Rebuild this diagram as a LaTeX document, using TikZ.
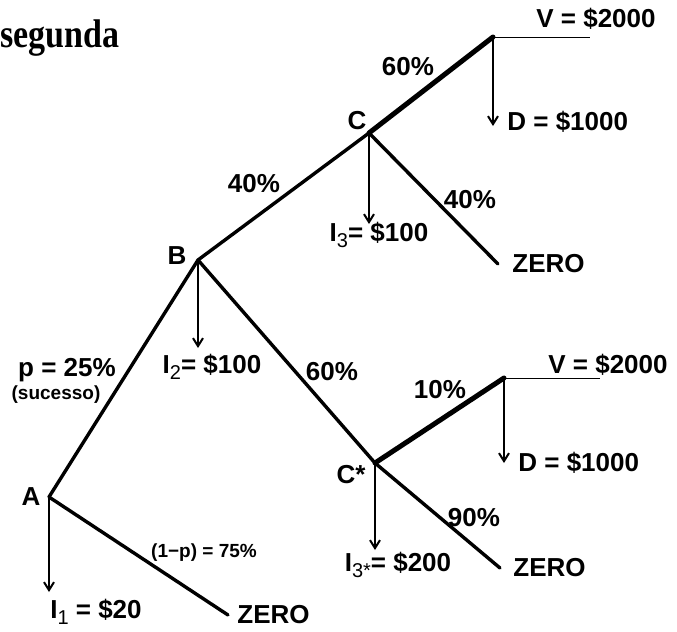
\documentclass[tikz,border=0pt]{standalone}
\usepackage{fontspec}
\setmainfont{Liberation Sans}
\newfontfamily\serifa{Liberation Serif}
\usetikzlibrary{arrows.meta,positioning}
\newcommand{\indice}[1]{\raisebox{-0.45ex}{\fontsize{10}{10}\selectfont\mdseries #1}}
\tikzset{
  ramo/.style={line width=1.7pt, line cap=round},
  ramogrosso/.style={line width=2.5pt, line cap=round},
  fio/.style={line width=0.5pt},
  seta/.style={-{Straight Barb[length=4pt, width=5pt]}, line width=1pt},
  rotulo/.style={font=\fontsize{13}{15}\selectfont\bfseries, inner sep=0pt},
  rotulomenor/.style={font=\fontsize{9.5}{11}\selectfont\bfseries, inner sep=0pt},
  titulo/.style={font=\fontsize{20}{22}\selectfont\serifa\bfseries, inner sep=0pt},
}

\begin{document}
\begin{tikzpicture}[x=0.5pt, y=-0.5pt]
  \useasboundingbox (0,0) rectangle (677,632);
  % vertices da arvore
  \coordinate (A) at (49,497);
  \coordinate (B) at (198,260);
  \coordinate (C) at (369,133);
  \coordinate (Cv) at (493,37);
  \coordinate (Cs) at (375,463);
  \coordinate (Csv) at (504,378);
  % pontas
  \coordinate (Azero) at (228,615);
  \coordinate (Ainv) at (49,592);
  \coordinate (Binv) at (198,348);
  \coordinate (Cinv) at (369,224);
  \coordinate (Czero) at (498,264);
  \coordinate (Cvfim) at (590,37);
  \coordinate (Cvdiv) at (493,126);
  \coordinate (Csinv) at (375,550);
  \coordinate (Cszero) at (500,568);
  \coordinate (Csvfim) at (600,378);
  \coordinate (Csvdiv) at (504,463);
  % ramos
  \draw[ramo] (A) -- (B);
  \draw[ramo] (A) -- (Azero);
  \draw[ramo] (B) -- (C);
  \draw[ramo] (B) -- (Cs);
  \draw[ramo] (C) -- (Czero);
  \draw[ramogrosso] (C) -- (Cv);
  \draw[ramo] (Cs) -- (Cszero);
  \draw[ramogrosso] (Cs) -- (Csv);
  \draw[fio] (Cv) -- (Cvfim);
  \draw[fio] (Csv) -- (Csvfim);
  % investimentos
  \draw[seta] (A) -- (Ainv);
  \draw[seta] (B) -- (Binv);
  \draw[seta] (C) -- (Cinv);
  \draw[seta] (Cv) -- (Cvdiv);
  \draw[seta] (Cs) -- (Csinv);
  \draw[seta] (Csv) -- (Csvdiv);
  % rotulos
  \node[titulo, anchor=base west] (tit) at (0,47) {\scalebox{0.85}[1]{segunda}};
  \node[rotulo] (rA) at (31,497) {A};
  \node[rotulo] (rB) at (177,256) {B};
  \node[rotulo] (rC) at (357,121) {C};
  \node[rotulo] (rCs) at (351,475) {C*};
  \node[rotulo] (pAB) at (67,370) {p = 25\%};
  \node[rotulomenor] (suc) at (56,395) {(sucesso)};
  \node[rotulomenor] (pAz) at (204,553) {(1−p) = 75\%};
  \node[rotulo] (iA) at (96,612) {I\indice{1} = \$20};
  \node[rotulo, right=4.5pt of Azero] (zA) {ZERO};
  \node[rotulo] (iB) at (212,367) {I\indice{2}= \$100};
  \node[rotulo] (pBC) at (254,184) {40\%};
  \node[rotulo] (pBCs) at (332,372) {60\%};
  \node[rotulo] (iC) at (379,235) {I\indice{3}= \$100};
  \node[rotulo] (pCz) at (470,200) {40\%};
  \node[rotulo, right=7pt of Czero] (zC) {ZERO};
  \node[rotulo] (pCv) at (408,67) {60\%};
  \node[rotulo] (vC) at (596,19) {V = \$2000};
  \node[rotulo, right=7pt of Cvdiv, yshift=2pt] (dC) {D = \$1000};
  \node[rotulo] (pCsv) at (440,390) {10\%};
  \node[rotulo] (vCs) at (608,365) {V = \$2000};
  \node[rotulo, right=7pt of Csvdiv] (dCs) {D = \$1000};
  \node[rotulo] (iCs) at (398,565) {I\indice{3*}= \$200};
  \node[rotulo] (pCsz) at (474,518) {90\%};
  \node[rotulo, right=6.5pt of Cszero] (zCs) {ZERO};
\end{tikzpicture}
\end{document}
